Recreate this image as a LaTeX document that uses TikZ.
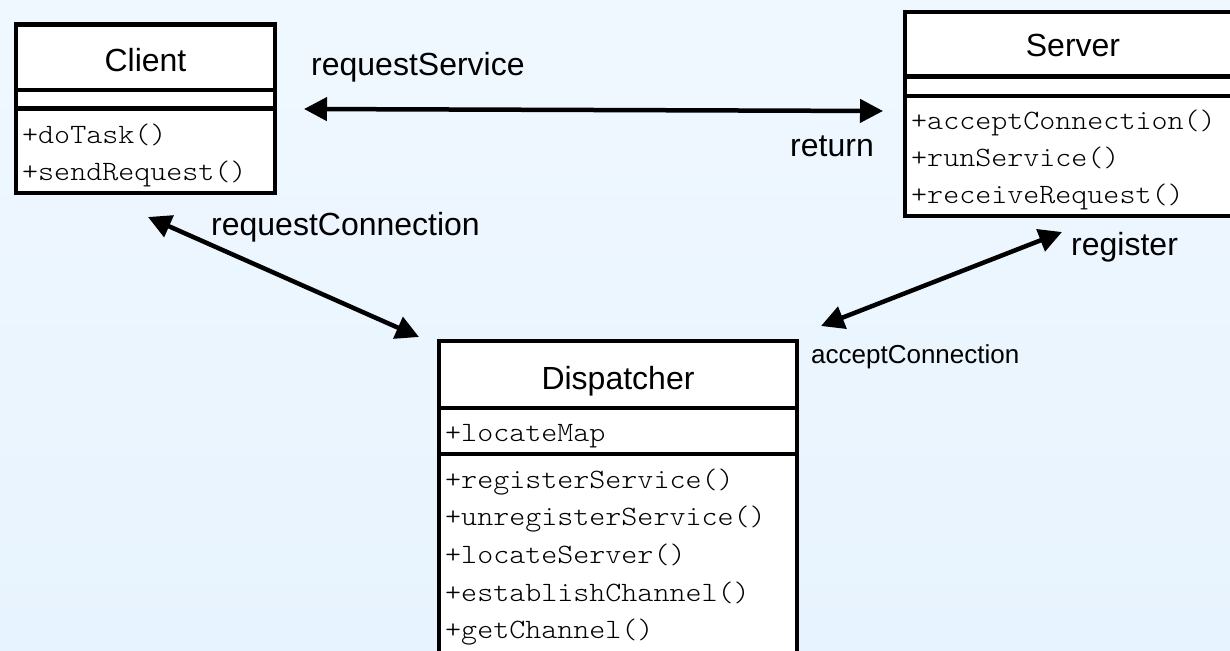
\documentclass[tikz,border=0pt]{standalone}
\usepackage{fontspec}
\setmainfont{Liberation Sans}
\newfontfamily\courfont{Latin Modern Mono Light}[FakeStretch=1.09]
\usetikzlibrary{arrows.meta}
\definecolor{bgtop}{HTML}{F0F8FF}
\definecolor{bgbot}{HTML}{E7F3FE}
\tikzset{
  classbox/.style={draw=black, fill=white, line width=4.5pt, inner sep=0pt, rectangle},
  divider/.style={draw=black, line width=4.5pt},
  title/.style={anchor=base, inner sep=0pt, font=\fontsize{32}{38}\selectfont},
  member/.style={anchor=base west, inner sep=0pt, font=\fontsize{28}{32}\selectfont\courfont},
  lbl/.style={anchor=base west, inner sep=0pt, font=\fontsize{32}{38}\selectfont},
  smalllbl/.style={anchor=base west, inner sep=0pt, font=\fontsize{26}{30}\selectfont},
  conn/.style={line width=4.5pt, {Triangle[length=23pt,width=23pt]}-{Triangle[length=23pt,width=23pt]}}
}
\begin{document}
\begin{tikzpicture}[x=1pt,y=1pt]
\useasboundingbox (0,0) rectangle (1230,-650);
\clip (0,0) rectangle (1230,-650);
\shade[top color=bgtop, bottom color=bgbot] (0,0) rectangle (1230,-650);

% Client
\node[classbox, minimum width=259pt, minimum height=168.5pt] (client) at (145.5,-108.75) {};
\draw[divider] (client.west |- 0,-90) -- (client.east |- 0,-90);
\draw[divider] (client.west |- 0,-108.5) -- (client.east |- 0,-108.5);
\node[title] (clientt) at (145.5,-72) {Client};
\node[member] (c1) at (22,-143) {+doTask()};
\node[member] (c2) at (22,-180) {+sendRequest()};

% Server
\node[classbox, minimum width=336pt, minimum height=204pt] (server) at (1073,-114) {};
\draw[divider] (server.west |- 0,-76.5) -- (server.east |- 0,-76.5);
\draw[divider] (server.west |- 0,-96) -- (server.east |- 0,-96);
\node[title] (servert) at (1073,-57) {Server};
\node[member] (s1) at (911,-129) {+acceptConnection()};
\node[member] (s2) at (911,-166) {+runService()};
\node[member] (s3) at (911,-203) {+receiveRequest()};

% Dispatcher
\node[classbox, minimum width=358pt, minimum height=339pt] (disp) at (618,-510.5) {};
\draw[divider] (disp.west |- 0,-408) -- (disp.east |- 0,-408);
\draw[divider] (disp.west |- 0,-454) -- (disp.east |- 0,-454);
\node[title] (dispt) at (618,-389) {Dispatcher};
\node[member] (d0) at (445,-441) {+locateMap};
\node[member] (d1) at (445,-488) {+registerService()};
\node[member] (d2) at (445,-525) {+unregisterService()};
\node[member] (d3) at (445,-563) {+locateServer()};
\node[member] (d4) at (445,-601) {+establishChannel()};
\node[member] (d5) at (445,-638) {+getChannel()};

% connector ends
\coordinate (a1) at (304,-109);
\coordinate (a2) at (883,-111);
\coordinate (b1) at (148,-217);
\coordinate (b2) at (419,-337);
\coordinate (e1) at (1062,-232);
\coordinate (e2) at (821,-326);

\draw[conn] (a1) -- (a2);
\draw[conn] (b1) -- (b2);
\draw[conn] (e1) -- (e2);

% labels
\node[lbl] (l1) at (311,-76) {requestService};
\node[lbl] (l2) at (790,-156) {return};
\node[lbl] (l3) at (211,-235) {requestConnection};
\node[lbl] (l4) at (1071,-255) {register};
\node[smalllbl] (l5) at (811,-363) {acceptConnection};
\end{tikzpicture}
\end{document}
